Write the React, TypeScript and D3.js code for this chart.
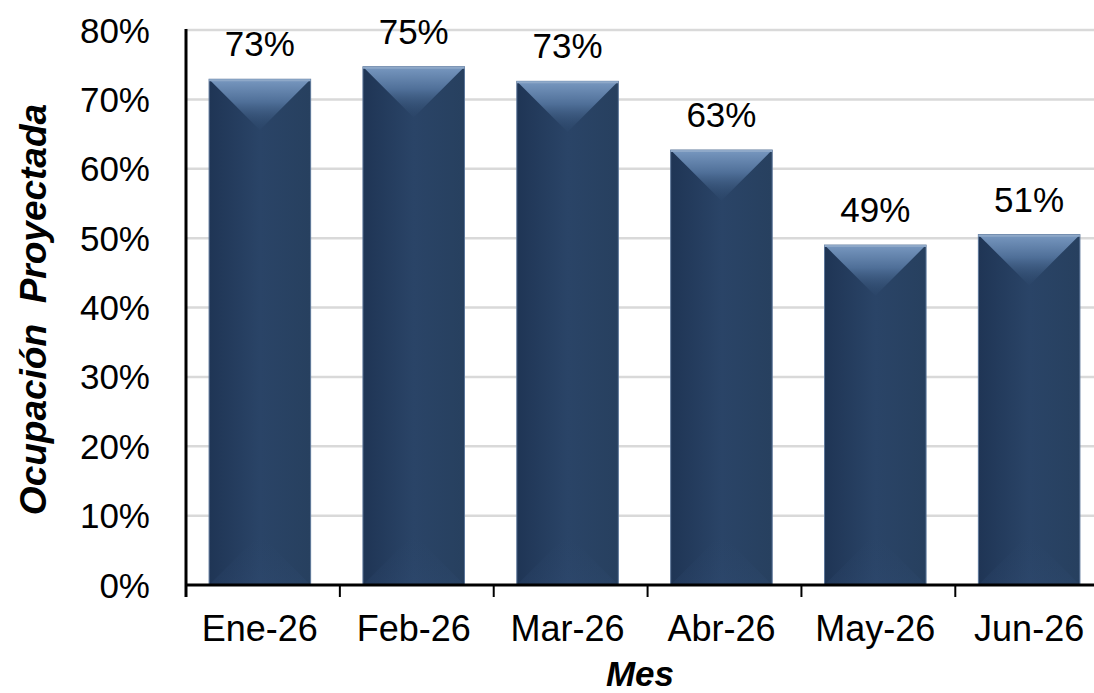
import React from 'react';
import * as d3 from 'd3';

const months = ['Ene-26', 'Feb-26', 'Mar-26', 'Abr-26', 'May-26', 'Jun-26'];
const occupancy = [0.729, 0.747, 0.726, 0.627, 0.49, 0.505];
const labels = ['73%', '75%', '73%', '63%', '49%', '51%'];
const yTicks = [0, 0.1, 0.2, 0.3, 0.4, 0.5, 0.6, 0.7, 0.8];

const W = 1094;
const H = 693;
const margin = { top: 30, right: -9, bottom: 108, left: 186 };
const FONT = '"Liberation Sans", Arial, sans-serif';

export default function App() {
  const x = d3.scaleBand<string>()
    .domain(months)
    .range([margin.left, W - margin.right])
    .paddingInner(0.34)
    .paddingOuter(0.15);
  const y = d3.scaleLinear().domain([0, 0.8]).range([H - margin.bottom, margin.top]);
  const fmt = d3.format('.0%');
  const y0 = y(0);
  const step = x.step();
  const bw = x.bandwidth();

  return (
    <svg width={W} height={H} style={{ position: 'absolute', left: 0, top: 0, background: '#fff' }}
      fontFamily={FONT}>
      <defs>
        <linearGradient id="body" x1="0" x2="1" y1="0" y2="0">
          <stop offset="0" stopColor="#1f3555" />
          <stop offset="0.5" stopColor="#2a4467" />
          <stop offset="1" stopColor="#27405f" />
        </linearGradient>
        <linearGradient id="bevelTop" x1="0" x2="0" y1="0" y2="1">
          <stop offset="0" stopColor="#7898c0" />
          <stop offset="0.45" stopColor="#4f6f98" />
          <stop offset="1" stopColor="#2e4a6e" stopOpacity="0.2" />
        </linearGradient>
        <linearGradient id="bevelBot" x1="0" x2="0" y1="0" y2="1">
          <stop offset="0" stopColor="#2e4a6e" stopOpacity="0" />
          <stop offset="1" stopColor="#34507a" stopOpacity="0.6" />
        </linearGradient>
      </defs>

      {/* grid */}
      {yTicks.slice(1).map(t => (
        <line key={t} x1={margin.left} x2={W} y1={y(t)} y2={y(t)} stroke="#d9d9d9" strokeWidth={2.5} />
      ))}

      {/* bars */}
      {months.map((m, i) => {
        const x0 = x(m)!;
        const top = y(occupancy[i]);
        const depth = bw * 0.5;
        return (
          <g key={m}>
            <rect x={x0} y={top} width={bw} height={y0 - top} fill="url(#body)" stroke="#5c7699" strokeWidth={1} />
            <polygon points={`${x0},${top} ${x0 + bw},${top} ${x0 + bw / 2},${top + depth}`} fill="url(#bevelTop)" />
            <line x1={x0} x2={x0 + bw} y1={top + 1} y2={top + 1} stroke="#8ea8c8" strokeWidth={2} />
            <polygon points={`${x0},${y0} ${x0 + bw},${y0} ${x0 + bw / 2},${y0 - depth}`} fill="url(#bevelBot)" opacity={0.35} />
            <text x={x0 + bw / 2} y={top - 23} textAnchor="middle" fontSize={35} fill="#000">{labels[i]}</text>
          </g>
        );
      })}

      {/* y axis */}
      <line x1={margin.left} x2={margin.left} y1={margin.top - 1} y2={y0 + 12} stroke="#000" strokeWidth={3} />
      {yTicks.map(t => (
        <text key={t} x={150} y={y(t)} dy="0.36em" textAnchor="end" fontSize={35} fill="#000">{fmt(t)}</text>
      ))}

      {/* x axis */}
      <line x1={margin.left} x2={W} y1={y0} y2={y0} stroke="#000" strokeWidth={3} />
      {months.map((m, i) => (
        <line key={'t' + m} x1={margin.left + step * i} x2={margin.left + step * i} y1={y0} y2={y0 + 12}
          stroke="#000" strokeWidth={2} />
      ))}
      {months.map(m => (
        <text key={'l' + m} x={x(m)! + bw / 2} y={641} textAnchor="middle" fontSize={36} fill="#000">{m}</text>
      ))}

      {/* titles */}
      <text x={640} y={686} textAnchor="middle" fontSize={35} fontWeight="bold" fontStyle="italic">Mes</text>
      <text transform={`translate(46,${(margin.top + y0) / 2 + 2}) rotate(-90)`} textAnchor="middle" fontSize={37}
        fontWeight="bold" fontStyle="italic" xmlSpace="preserve">Ocupación  Proyectada</text>
    </svg>
  );
}
